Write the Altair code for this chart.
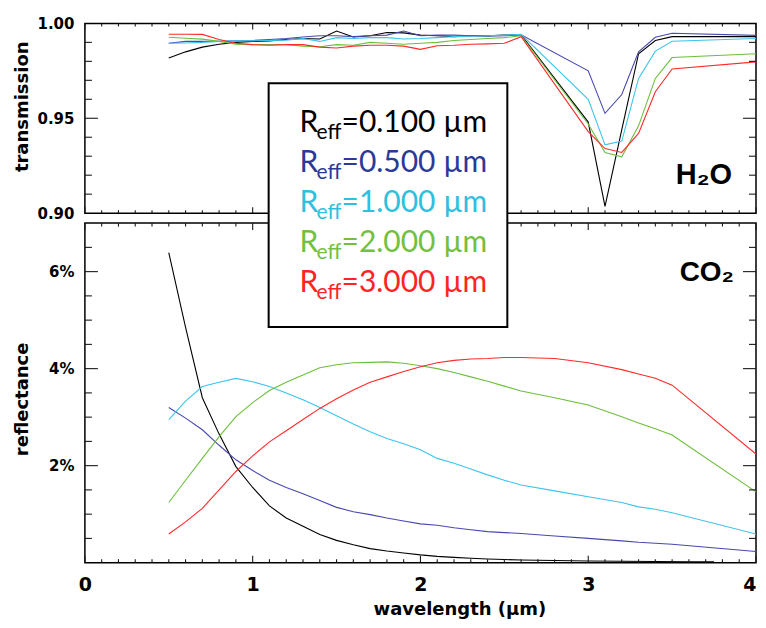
import altair as alt
import pandas as pd

# ---------------- data ----------------
series = ["0.100", "0.500", "1.000", "2.000", "3.000"]
line_colors = ["#000000", "#4848b0", "#3cc4ee", "#6cbf3c", "#ff2a2a"]
text_colors = ["#000000", "#2b3a98", "#2ec0dc", "#72c040", "#ff2424"]

# top panel (transmission)
wl_top = [0.5, 0.6, 0.7, 0.8, 0.9, 1.0, 1.1, 1.2, 1.3, 1.4, 1.5, 1.6, 1.7, 1.8, 1.9,
          2.0, 2.1, 2.2, 2.3, 2.4, 2.5, 2.6, 3.0, 3.1, 3.2, 3.3, 3.4, 3.5, 4.0]
trans_010 = [0.9818, 0.9850, 0.9875, 0.9890, 0.9900, 0.9905, 0.9908, 0.9915, 0.9920, 0.9918,
             0.9960, 0.9928, 0.9935, 0.9952, 0.9950, 0.9938, 0.9935, 0.9930, 0.9935, 0.9935,
             0.9938, 0.9940, 0.9480, 0.9036, 0.9440, 0.9840, 0.9910, 0.9930, 0.9930]
trans_050 = [0.9895, 0.9905, 0.9905, 0.9905, 0.9908, 0.9910, 0.9915, 0.9920, 0.9928, 0.9935,
             0.9935, 0.9930, 0.9935, 0.9938, 0.9960, 0.9935, 0.9938, 0.9938, 0.9935, 0.9932,
             0.9935, 0.9940, 0.9750, 0.9526, 0.9625, 0.9850, 0.9927, 0.9948, 0.9937]
trans_100 = [0.9895, 0.9897, 0.9900, 0.9905, 0.9908, 0.9908, 0.9910, 0.9912, 0.9920, 0.9905,
             0.9925, 0.9920, 0.9925, 0.9925, 0.9918, 0.9920, 0.9925, 0.9930, 0.9932, 0.9935,
             0.9938, 0.9942, 0.9600, 0.9360, 0.9380, 0.9710, 0.9854, 0.9906, 0.9920]
trans_200 = [0.9927, 0.9922, 0.9917, 0.9905, 0.9890, 0.9888, 0.9888, 0.9888, 0.9880, 0.9877,
             0.9888, 0.9885, 0.9900, 0.9895, 0.9890, 0.9895, 0.9900, 0.9910, 0.9915, 0.9920,
             0.9925, 0.9935, 0.9470, 0.9320, 0.9297, 0.9460, 0.9710, 0.9820, 0.9840]
trans_300 = [0.9943, 0.9943, 0.9942, 0.9915, 0.9895, 0.9888, 0.9885, 0.9888, 0.9888, 0.9875,
             0.9870, 0.9880, 0.9885, 0.9885, 0.9880, 0.9863, 0.9882, 0.9885, 0.9890, 0.9892,
             0.9895, 0.9930, 0.9430, 0.9340, 0.9320, 0.9420, 0.9640, 0.9760, 0.9797]

# bottom panel (reflectance, %)
wl_bot_010 = [0.5, 0.6, 0.7, 0.8, 0.9, 1.0, 1.1, 1.2, 1.3, 1.4, 1.5, 1.6, 1.7, 1.8, 1.9,
              2.0, 2.1, 2.2, 2.3, 2.4, 2.5, 2.6, 2.8, 3.0, 3.2, 3.4, 3.6, 3.75]
refl_010 = [6.39, 4.85, 3.40, 2.65, 1.98, 1.55, 1.17, 0.92, 0.75, 0.58, 0.46, 0.37, 0.29, 0.24,
            0.20, 0.16, 0.13, 0.11, 0.09, 0.075, 0.065, 0.055, 0.045, 0.035, 0.03, 0.025, 0.02, 0.02]
wl_bot = [0.5, 0.6, 0.7, 0.8, 0.9, 1.0, 1.1, 1.2, 1.3, 1.4, 1.5, 1.6, 1.7, 1.8, 1.9,
          2.0, 2.1, 2.2, 2.3, 2.4, 2.5, 2.6, 2.8, 3.0, 3.2, 3.3, 3.4, 3.5, 4.0]
refl_050 = [3.20, 2.98, 2.74, 2.42, 2.12, 1.90, 1.70, 1.55, 1.42, 1.28, 1.14, 1.05, 0.99, 0.92,
            0.86, 0.80, 0.77, 0.72, 0.68, 0.64, 0.62, 0.60, 0.55, 0.50, 0.45, 0.42, 0.40, 0.38, 0.23]
refl_100 = [2.95, 3.33, 3.63, 3.72, 3.80, 3.73, 3.63, 3.50, 3.36, 3.20, 3.03, 2.86, 2.70, 2.56,
            2.45, 2.33, 2.15, 2.05, 1.93, 1.81, 1.70, 1.60, 1.48, 1.36, 1.24, 1.15, 1.10, 1.03, 0.59]
refl_200 = [1.24, 1.70, 2.15, 2.60, 3.01, 3.30, 3.55, 3.72, 3.87, 4.02, 4.08, 4.12, 4.13, 4.14,
            4.11, 4.06, 4.00, 3.92, 3.83, 3.74, 3.64, 3.54, 3.40, 3.25, 3.01, 2.88, 2.76, 2.63, 1.46]
refl_300 = [0.59, 0.84, 1.12, 1.50, 1.88, 2.20, 2.49, 2.72, 2.95, 3.18, 3.38, 3.56, 3.72, 3.83,
            3.94, 4.04, 4.12, 4.17, 4.20, 4.21, 4.23, 4.23, 4.21, 4.12, 3.98, 3.89, 3.80, 3.66, 2.24]

# axis ticks / labels
x_major = [0, 1, 2, 3, 4]
x_minor = [round(i * 0.1, 1) for i in range(1, 40) if i % 10]
top_y_labels = [0.90, 0.95, 1.00]
top_y_major = [0.95]
top_y_minor = [0.91, 0.92, 0.93, 0.94, 0.96, 0.97, 0.98, 0.99]
bot_y_labels = [2, 4, 6]
bot_y_minor = [0.5, 1, 1.5, 2.5, 3, 3.5, 4.5, 5, 5.5, 6.5]

legend_values = ["=0.100 µm", "=0.500 µm", "=1.000 µm", "=2.000 µm", "=3.000 µm"]

# ---------------- tables ----------------
top_rows = []
for s, vals in zip(series, [trans_010, trans_050, trans_100, trans_200, trans_300]):
    for w, v in zip(wl_top, vals):
        top_rows.append({"wl": w, "val": v, "series": s})
df_top = pd.DataFrame(top_rows)

bot_rows = []
for s, xs, vals in zip(series, [wl_bot_010, wl_bot, wl_bot, wl_bot, wl_bot],
                       [refl_010, refl_050, refl_100, refl_200, refl_300]):
    for w, v in zip(xs, vals):
        bot_rows.append({"wl": w, "val": v, "series": s})
df_bot = pd.DataFrame(bot_rows)

# ---------------- layout/style ----------------
W = 672
H_TOP = 190
H_BOT = 340
TICK = "#1a1a1a"
LABEL_FONT = "DejaVu Sans"
ANNOT_FONT = "Liberation Sans"
LEG_FONT = "Lato"

xscale = alt.Scale(domain=[0, 4], nice=False, zero=False)
yscale_top = alt.Scale(domain=[0.9, 1.0], nice=False, zero=False)
yscale_bot = alt.Scale(domain=[0, 7], nice=False, zero=False)
color_scale = alt.Scale(domain=series, range=line_colors)

axis_common = dict(ticks=False, tickSize=0, domain=False, grid=False,
                   labelFont=LABEL_FONT, labelFontWeight="bold", labelColor="black",
                   titleFont=LABEL_FONT, titleFontWeight="bold", titleColor="black",
                   titleFontSize=18, labelOverlap=False, labelFlush=False)

ax_top_x = alt.Axis(labels=False, ticks=False, domain=False, grid=False, title=None)
ax_top_y = alt.Axis(values=top_y_labels, format=".2f", title="transmission",
                    labelFontSize=15, labelPadding=11,
                    titleX=-57, titleY=83, titleBaseline="alphabetic", **axis_common)
ax_bot_x = alt.Axis(values=x_major, format="d", title="wavelength (µm)",
                    labelFontSize=19, labelPadding=13,
                    labelAlign={"condition": {"test": "datum.value == 4", "value": "right"},
                                "value": "center"},
                    titleX=375, titleY=52, titleBaseline="alphabetic", **axis_common)
ax_bot_y = alt.Axis(values=bot_y_labels, labelExpr="datum.value + '%'",
                    title="reflectance", labelFontSize=15, labelPadding=11,
                    titleX=-57, titleY=176, titleBaseline="alphabetic", **axis_common)


def tick_layers(xmaj, xmin, ymaj, ymin, ys, axx, axy, H, xl, yl):
    layers = []
    for vals, ln in [(xmaj, xl[0]), (xmin, xl[1])]:
        d = pd.DataFrame({"wl": vals})
        b = alt.Chart(d).mark_rule(color=TICK, strokeWidth=1.1)
        layers.append(b.encode(x=alt.X("wl:Q", scale=xscale, axis=axx),
                               y=alt.value(H - ln), y2=alt.value(H)))
        layers.append(b.encode(x=alt.X("wl:Q", scale=xscale, axis=axx),
                               y=alt.value(0), y2=alt.value(ln)))
    for vals, ln in [(ymaj, yl[0]), (ymin, yl[1])]:
        d = pd.DataFrame({"val": vals})
        b = alt.Chart(d).mark_rule(color=TICK, strokeWidth=1.1)
        layers.append(b.encode(y=alt.Y("val:Q", scale=ys, axis=axy),
                               x=alt.value(0), x2=alt.value(ln)))
        layers.append(b.encode(y=alt.Y("val:Q", scale=ys, axis=axy),
                               x=alt.value(W - ln), x2=alt.value(W)))
    return layers


# ---------------- top panel ----------------
top_lines = alt.Chart(df_top).mark_line(strokeWidth=1.1, clip=True).encode(
    x=alt.X("wl:Q", scale=xscale, axis=ax_top_x),
    y=alt.Y("val:Q", scale=yscale_top, axis=ax_top_y),
    color=alt.Color("series:N", scale=color_scale, legend=None),
    detail="series:N",
)

h2o = alt.Chart(pd.DataFrame({"t": ["H₂O"]})).mark_text(
    align="right", baseline="alphabetic", font=ANNOT_FONT, fontSize=29,
    fontWeight="bold", color="black"
).encode(x=alt.value(648), y=alt.value(161), text="t:N")

top = alt.layer(
    top_lines,
    *tick_layers(x_major, x_minor, top_y_major, top_y_minor, yscale_top,
                 ax_top_x, ax_top_y, H_TOP, (6, 3), (13, 7)),
    h2o,
).properties(width=W, height=H_TOP)

# ---------------- bottom panel ----------------
bot_lines = alt.Chart(df_bot).mark_line(strokeWidth=1.1, clip=True).encode(
    x=alt.X("wl:Q", scale=xscale, axis=ax_bot_x),
    y=alt.Y("val:Q", scale=yscale_bot, axis=ax_bot_y),
    color=alt.Color("series:N", scale=color_scale, legend=None),
    detail="series:N",
)

co2 = alt.Chart(pd.DataFrame({"t": ["CO₂"]})).mark_text(
    align="right", baseline="alphabetic", font=ANNOT_FONT, fontSize=28,
    fontWeight="bold", color="black"
).encode(x=alt.value(650), y=alt.value(58), text="t:N")

# legend box spanning both panels (drawn in the lower panel, on top of everything)
box = alt.Chart(pd.DataFrame({"k": [0]})).mark_rect(
    fill="white", stroke="black", strokeWidth=2
).encode(x=alt.value(184), x2=alt.value(423), y=alt.value(-140), y2=alt.value(104))

legend_layers = []
for i, (val, col) in enumerate(zip(legend_values, text_colors)):
    base_y = -91 + 40 * i
    d = pd.DataFrame({"r": ["R"], "s": ["eff"], "v": [val]})
    legend_layers.append(alt.Chart(d).mark_text(
        align="left", baseline="alphabetic", font=LEG_FONT, fontSize=30, color=col
    ).encode(x=alt.value(215), y=alt.value(base_y), text="r:N"))
    legend_layers.append(alt.Chart(d).mark_text(
        align="left", baseline="alphabetic", font=LEG_FONT, fontSize=21, color=col
    ).encode(x=alt.value(232), y=alt.value(base_y + 7), text="s:N"))
    legend_layers.append(alt.Chart(d).mark_text(
        align="left", baseline="alphabetic", font=LEG_FONT, fontSize=30, color=col
    ).encode(x=alt.value(257), y=alt.value(base_y), text="v:N"))

bottom = alt.layer(
    bot_lines,
    *tick_layers(x_major, x_minor, bot_y_labels, bot_y_minor, yscale_bot,
                 ax_bot_x, ax_bot_y, H_BOT, (7, 3.5), (13, 7)),
    co2,
    box,
    *legend_layers,
).properties(width=W, height=H_BOT)

chart = alt.vconcat(
    top, bottom, spacing=10, bounds="flush",
    padding={"left": 5, "top": 7, "right": 0, "bottom": 0},
).configure_view(stroke="black", strokeWidth=1.5)

chart.save("out.html", embed_options={"renderer": "svg", "actions": False})
